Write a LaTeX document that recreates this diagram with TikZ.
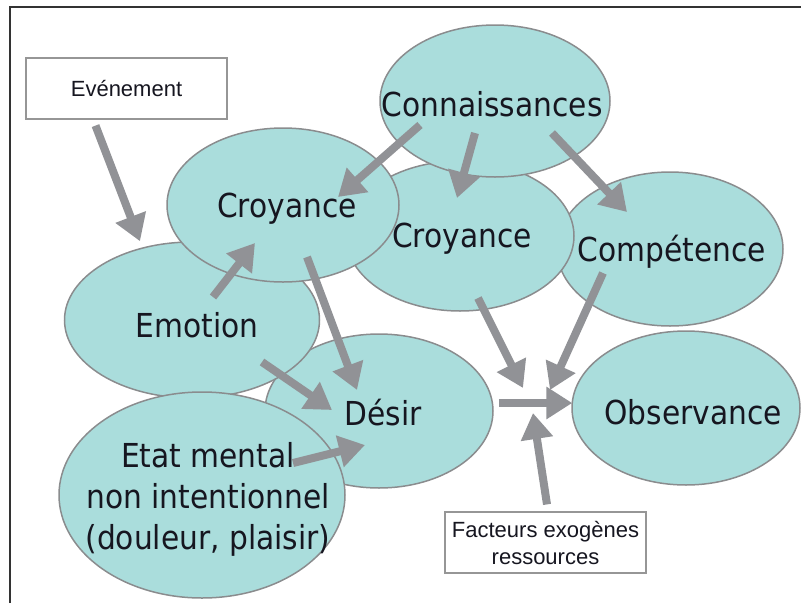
\documentclass[tikz,border=0pt]{standalone}
\usepackage{fontspec}
\usepackage{xcolor}
\usepackage{tikz}
\usetikzlibrary{arrows.meta,calc,shapes.geometric}

\newfontfamily\bubblefont[FakeStretch=0.9]{DejaVu Sans}
\newfontfamily\boxfont{Liberation Sans}

\definecolor{bubblefill}{RGB}{170,221,220}
\definecolor{bubbleline}{RGB}{138,140,142}
\definecolor{arrowgray}{RGB}{145,146,150}
\definecolor{boxline}{RGB}{150,150,150}
\definecolor{textdark}{RGB}{22,22,32}

\begin{document}
\begin{tikzpicture}[x=1pt, y=-1pt,
            bubble/.style={draw=bubbleline, fill=bubblefill, ellipse, line width=1.5pt, inner sep=0pt},
            lbl/.style={font=\bubblefont\fontsize{33}{41}\selectfont, text=textdark, align=center, inner sep=0pt},
            tag/.style={draw=boxline, fill=white, rectangle, line width=1.2pt, minimum width=201pt, minimum height=61pt,
                 inner sep=0pt, align=center, text=textdark, font=\boxfont\fontsize{22}{27}\selectfont},
            arr/.style={draw=arrowgray, line width=8pt, -{Triangle[length=26pt,width=31pt]}}
            ]
            \useasboundingbox (0,0) rectangle (801,603);

            % Frame
            \draw[line width=2pt, black!80] (10,603) -- (10,7) -- (801,7);

            % Boxes
            \node[tag] (evt) at (126.5,88.5) {Evénement};
            \node[tag] (fac) at (545.5,542.5) {Facteurs exogènes\\ressources};

            % Bubbles (back to front)
            \node[bubble, minimum width=228pt, minimum height=154pt] (des) at (379,411) {};
            \node[bubble, minimum width=255pt, minimum height=156pt] (emo) at (192,320) {};
            \node[bubble, minimum width=226pt, minimum height=154pt] (com) at (670,249) {};
            \node[bubble, minimum width=228pt, minimum height=150pt] (cr2) at (460,236) {};
            \node[bubble, minimum width=230pt, minimum height=152pt] (con) at (495,101) {};
            \node[bubble, minimum width=232pt, minimum height=154pt] (cr1) at (283,205) {};
            \node[bubble, minimum width=286pt, minimum height=206pt] (eta) at (202,495) {};
            \node[bubble, minimum width=228pt, minimum height=154pt] (obs) at (686,408) {};

            % Labels
            \node[lbl] at ([shift={(-3,3)}]con.center) {Connaissances};
            \node[lbl] at ([shift={(4,4)}]cr1.center) {Croyance};
            \node[lbl] at ([shift={(2,3)}]cr2.center) {Croyance};
            \node[lbl] at ([shift={(2,3)}]com.center) {Compétence};
            \node[lbl] at ([shift={(5,5)}]emo.center) {Emotion};
            \node[lbl] at ([shift={(4,2)}]des.center) {Désir};
            \node[lbl] at ([shift={(6,4)}]eta.center) {Etat mental\\non intentionnel\\(douleur, plaisir)};
            \node[lbl] at ([shift={(7,4)}]obs.center) {Observance};

            % Junction in front of Observance
            \coordinate (jn) at ($(des.east)!0.5!(obs.west)$);

            % Arrows
            \draw[arr] ([shift={(-31,6)}]evt.south) -- ([shift={(-52,0)}]emo.north);
            \draw[arr] ([shift={(-75,24)}]con.center) -- ([shift={(55,-8)}]cr1.center);
            \draw[arr] ([shift={(-20,32)}]con.center) -- ([shift={(-3,-38)}]cr2.center);
            \draw[arr] ([shift={(57,32)}]con.center) -- ([shift={(-43,-37)}]com.center);
            \draw[arr] ([shift={(21,-23)}]emo.center) -- ([shift={(-28,38)}]cr1.center);
            \draw[arr] ([shift={(24,52)}]cr1.center) -- ([shift={(-22,-21)}]des.center);
            \draw[arr] ([shift={(70,42)}]emo.center) -- ([shift={(-47,-1)}]des.center);
            \draw[arr] ([shift={(91,-32)}]eta.center) -- ([shift={(-14,34)}]des.center);
            \draw[arr] ([shift={(5,-8)}]des.east) -- ([shift={(1,-5)}]obs.west);
            \draw[arr] ([shift={(18,62)}]cr2.center) -- ([shift={(-9.5,-21.5)}]jn);
            \draw[arr] ([shift={(-67,24)}]com.center) -- ([shift={(17.5,-19.5)}]jn);
            \draw[arr] ([shift={(1.5,-7)}]fac.north) -- ([shift={(0.5,3.5)}]jn);
        \end{tikzpicture}
\end{document}
